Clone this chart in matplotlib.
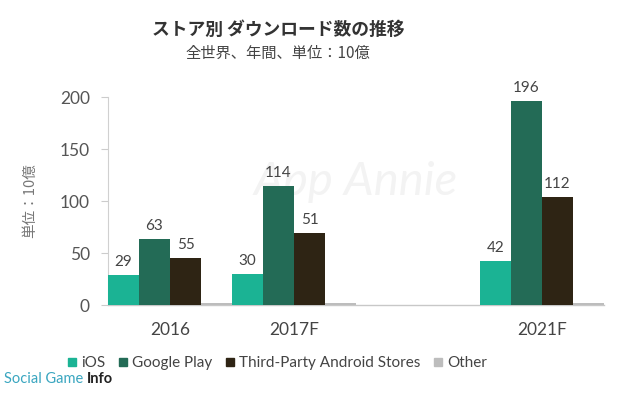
import matplotlib
matplotlib.use("Agg")
import matplotlib.pyplot as plt
from matplotlib.lines import Line2D
import numpy as np

plt.rcParams['font.family'] = ['Lato', 'Noto Sans CJK JP', 'DejaVu Sans']

categories = ["2016", "2017F", "2021F"]
cat_pos = [0, 1, 3]
series_names = ["iOS", "Google Play", "Third-Party Android Stores", "Other"]
ios = [29, 30, 42]
google_play = [63, 114, 196]
third_party = [45, 69, 104]
other = [2, 2, 2]
ios_labels = ["29", "30", "42"]
gp_labels = ["63", "114", "196"]
tp_labels = ["55", "51", "112"]
colors = ["#1bb394", "#236b56", "#2e2414", "#bdbdbd"]
yticks = [0, 50, 100, 150, 200]

fig = plt.figure(figsize=(6.37, 3.99), dpi=100)
ax = fig.add_axes([108/637, 1-305/399, 496/637, 208/399])

w = 0.25
x = np.array(cat_pos, dtype=float)
series = [ios, google_play, third_party, other]
labels = [ios_labels, gp_labels, tp_labels, None]
for i, (vals, c, lab) in enumerate(zip(series, colors, labels)):
    xs = x + (i - 1.5) * w
    ax.bar(xs, vals, width=w, color=c, linewidth=0, zorder=3)
    if lab is not None:
        for xx, v, t in zip(xs, vals, lab):
            ax.text(xx, v + 6, t, ha='center', va='bottom', fontsize=11,
                    color='#444444', zorder=4)

ax.set_xlim(-0.5, 3.5)
ax.set_ylim(0, 200)
ax.set_xticks(cat_pos)
ax.set_xticklabels(categories, fontsize=12.5, color='#444444')
ax.set_yticks(yticks)
ax.set_yticklabels([str(t) for t in yticks], fontsize=12.5, color='#555555')
ax.tick_params(axis='x', length=0, pad=12)
ax.tick_params(axis='y', length=5, color='#cccccc', pad=8)
for s in ['top', 'right']:
    ax.spines[s].set_visible(False)
ax.spines['left'].set_color('#d0d0d0')
ax.spines['bottom'].set_color('#c8c8c8')
ax.spines['left'].set_linewidth(0.8)
ax.spines['bottom'].set_linewidth(1.0)

# watermark (behind bars)
ax.text(356/637, 1-182/399, "App Annie", ha='center', va='center',
        fontsize=34, style='italic', color='#f3f3f3',
        transform=fig.transFigure, zorder=1, clip_on=False)

fig.text(278/637, 1-30/399, "ストア別 ダウンロード数の推移", ha='center', va='center',
         fontsize=12.8, fontweight='bold', color='#333333',
         family=['Noto Sans CJK JP', 'DejaVu Sans'])
fig.text(278/637, 1-53/399, "全世界、年間、単位：10億", ha='center', va='center',
         fontsize=11, color='#444444',
         family=['Noto Sans CJK JP', 'DejaVu Sans'])
fig.text(30/637, 1-201/399, "単位：10億", ha='center', va='center', rotation=90,
         fontsize=10.5, color='#777777',
         family=['Noto Sans CJK JP', 'DejaVu Sans'])

handles = [Line2D([], [], marker='s', linestyle='none', markersize=5.5,
                  markerfacecolor=c, markeredgecolor=c) for c in colors]
leg = fig.legend(handles, series_names, loc='center', ncol=4,
                 bbox_to_anchor=(278/637, 1-363/399), frameon=False,
                 fontsize=11, handlelength=0.5, handletextpad=0.35,
                 columnspacing=0.9, borderpad=0)
for t in leg.get_texts():
    t.set_color('#444444')

t1 = fig.text(4/637, 1-379/399, "Social Game", ha='left', va='center',
              fontsize=10.5, color='#3aa6c0')
ax.annotate("Info", xy=(1, 0.5), xycoords=t1, xytext=(2.5, 0),
            textcoords='offset points', ha='left', va='center', fontsize=10.5,
            fontweight='bold', color='#222222', annotation_clip=False)

fig.savefig("out.png", dpi=100)
